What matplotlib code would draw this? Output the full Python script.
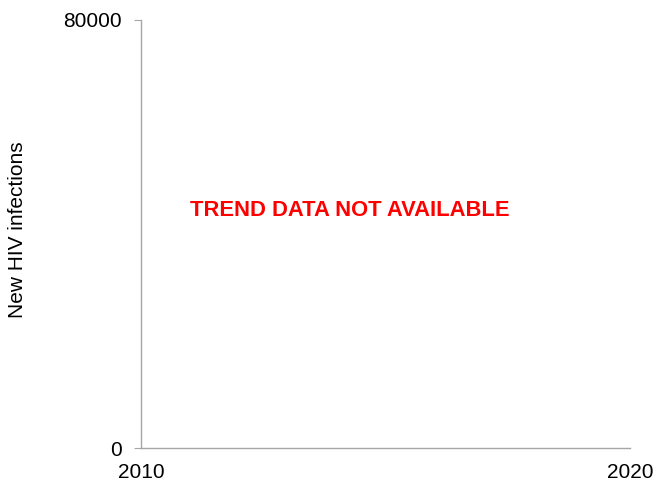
import matplotlib
matplotlib.use("Agg")
import matplotlib.pyplot as plt

plt.rcParams['font.family'] = ['Liberation Sans', 'DejaVu Sans']

years = [2010, 2020]
y_limits = [0, 80000]
y_label = "New HIV infections"
message = "TREND DATA NOT AVAILABLE"

fig = plt.figure(figsize=(6.53, 4.87), dpi=100)
ax = fig.add_axes([141 / 653, 1 - 448 / 487, 489 / 653, 428 / 487])

ax.set_xlim(years[0], years[-1])
ax.set_ylim(y_limits[0], y_limits[1])
ax.set_xticks(years)
ax.set_yticks(y_limits)
ax.set_xticklabels([str(y) for y in years])
ax.set_yticklabels([str(v) for v in y_limits])

for side in ["top", "right"]:
    ax.spines[side].set_visible(False)
for side in ["left", "bottom"]:
    ax.spines[side].set_color("#a6a6a6")
    ax.spines[side].set_linewidth(1.0)

ax.tick_params(axis="y", length=5, color="#a6a6a6", pad=9, labelsize=15)
ax.tick_params(axis="x", length=0, pad=11, labelsize=15)

ax.set_ylabel(y_label, fontsize=15)
ax.yaxis.set_label_coords(-0.233, 0.51)

ax.text(2011.0, 44300, message, color="#ff0000", fontsize=15.8,
        fontweight="bold", va="center", ha="left")

fig.savefig("out.png", dpi=100)
